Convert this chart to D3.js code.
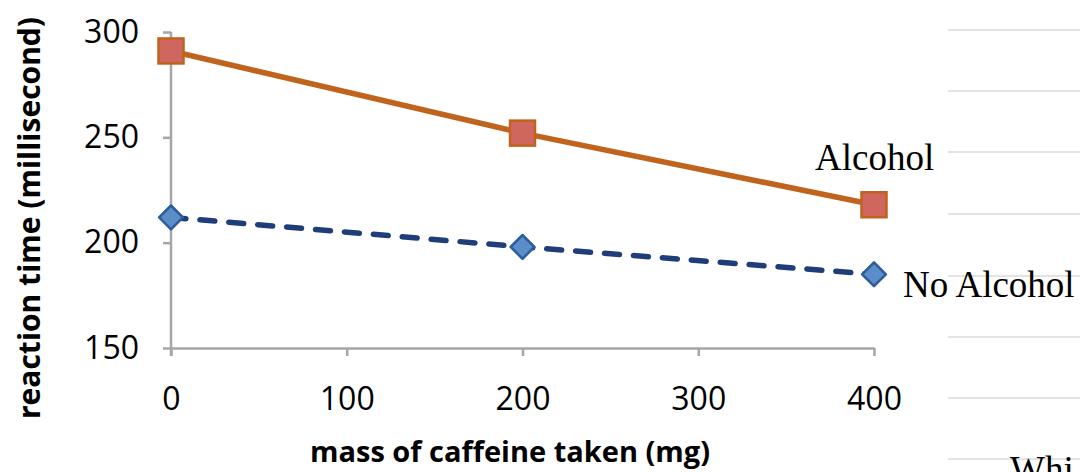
<!DOCTYPE html>
<html>
<head>
<meta charset="utf-8">
<script src="https://cdn.jsdelivr.net/npm/d3@7"></script>
<style>
  body { margin: 0; background: #fff; }
  svg { display: block; }
</style>
</head>
<body>
<div id="chart"></div>
<script>
// data
const caffeine = [0, 200, 400];
const alcohol = [291, 252, 218];
const noAlcohol = [212, 198, 185];
const xTicks = [0, 100, 200, 300, 400];
const yTicks = [150, 200, 250, 300];
const seriesNames = ["Alcohol", "No Alcohol"];

const width = 1080;
const height = 472;

const svg = d3.select("#chart")
    .append("svg")
    .attr("width", width)
    .attr("height", height);

// scales
const x = d3.scaleLinear().domain([0, 400]).range([171, 874]);
const y = d3.scaleLinear().domain([150, 300]).range([348, 32]);

// faint ruled lines on the right (page behind the chart)
const ruleLines = [30, 91, 152, 214, 276, 337, 398, 459];
svg.selectAll("line.rule")
    .data(ruleLines)
    .join("line")
    .attr("x1", 948).attr("x2", width)
    .attr("y1", d => d).attr("y2", d => d)
    .attr("stroke", "#e3e3e3")
    .attr("stroke-width", 2);

// axes
const axisColor = "#a6a6a6";
const yAxis = svg.append("g")
    .attr("transform", `translate(${x(0)},0)`)
    .call(d3.axisLeft(y).tickValues(yTicks).tickSize(8).tickPadding(24).tickSizeOuter(0));
const xAxis = svg.append("g")
    .attr("transform", `translate(0,${y(150)})`)
    .call(d3.axisBottom(x).tickValues(xTicks).tickSize(8).tickPadding(31).tickSizeOuter(0));

[xAxis, yAxis].forEach(g => {
    g.select(".domain").attr("stroke", axisColor).attr("stroke-width", 2.5);
    g.selectAll(".tick line").attr("stroke", axisColor).attr("stroke-width", 2.5);
    g.selectAll(".tick text")
        .attr("fill", "#000")
        .style("font-family", "'Open Sans', sans-serif")
        .style("font-size", "32px");
});
// y axis reaches down past the x axis like the reference
yAxis.select(".domain").attr("d", `M0,${y(300)}V${y(150) + 8}`);

// axis titles
svg.append("text")
    .attr("x", 510).attr("y", 462)
    .attr("text-anchor", "middle")
    .style("font-family", "'Open Sans', sans-serif")
    .style("font-weight", "bold")
    .style("font-size", "29px")
    .text("mass of caffeine taken (mg)");

svg.append("text")
    .attr("transform", "translate(40,218) rotate(-90)")
    .attr("text-anchor", "middle")
    .style("font-family", "'Open Sans', sans-serif")
    .style("font-weight", "bold")
    .style("font-size", "30px")
    .text("reaction time (millisecond)");

// lines
const line = d3.line()
    .x(d => x(d[0]))
    .y(d => y(d[1]));

svg.append("path")
    .datum(d3.zip(caffeine, alcohol))
    .attr("d", line)
    .attr("fill", "none")
    .attr("stroke", "#c0631d")
    .attr("stroke-width", 5.5);

svg.append("path")
    .datum(d3.zip(caffeine, noAlcohol))
    .attr("d", line)
    .attr("fill", "none")
    .attr("stroke", "#1f3d78")
    .attr("stroke-width", 5.5)
    .attr("stroke-linecap", "round")
    .attr("stroke-dasharray", "15,14");

// markers
const sq = 25;
svg.selectAll("rect.alc")
    .data(d3.zip(caffeine, alcohol))
    .join("rect")
    .attr("x", d => x(d[0]) - sq / 2)
    .attr("y", d => y(d[1]) - sq / 2)
    .attr("width", sq)
    .attr("height", sq)
    .attr("fill", "#d0675f")
    .attr("stroke", "#c0631d")
    .attr("stroke-width", 2.5);

const diamond = d3.symbol().type(d3.symbolDiamond2).size(360);
svg.selectAll("path.noalc")
    .data(d3.zip(caffeine, noAlcohol))
    .join("path")
    .attr("d", diamond)
    .attr("transform", d => `translate(${x(d[0])},${y(d[1])})`)
    .attr("fill", "#5b8ec8")
    .attr("stroke", "#2c5c9c")
    .attr("stroke-width", 2.5)
    .attr("stroke-linejoin", "round");

// series labels
const labelPos = [[815, 170], [903, 297]];
svg.selectAll("text.series")
    .data(seriesNames)
    .join("text")
    .attr("x", (d, i) => labelPos[i][0])
    .attr("y", (d, i) => labelPos[i][1])
    .style("font-family", "'Liberation Serif', serif")
    .style("font-size", "37px")
    .text(d => d);

// cut-off text at the bottom right (it is cut off in the reference too)
svg.append("text")
    .attr("x", 1010).attr("y", 482)
    .style("font-family", "'Liberation Serif', serif")
    .style("font-size", "37px")
    .text("Whi");
</script>
</body>
</html>
